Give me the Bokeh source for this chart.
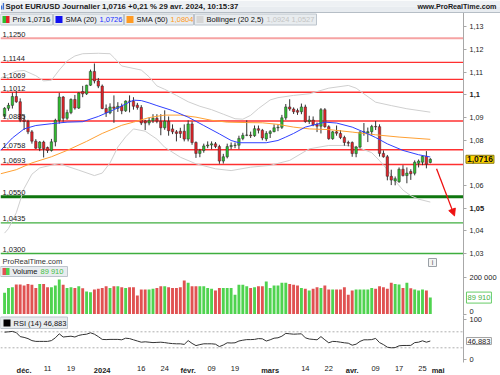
import numpy as np
from bokeh.plotting import figure
from bokeh.models import (Range1d, FixedTicker, Label, BoxAnnotation, Arrow, NormalHead,
                          CustomJSTickFormatter, ColumnDataSource, LinearAxis)
from bokeh.embed import file_html
from bokeh.resources import INLINE

# ---------------- data (daily EUR/USD, trading days from 2023-11-24) ----------------
FIRST_DAY = "2023-11-24"
HOLIDAYS = ["2023-12-25", "2024-01-01"]

open_ = [1.0906, 1.0941, 1.0954, 1.0993, 1.0970, 1.0890, 1.0883, 1.0837, 1.0796, 1.0765,
         1.0792, 1.0768, 1.0755, 1.0793, 1.0888, 1.0991, 1.0897, 1.0922, 1.0980, 1.0942,
         1.1015, 1.1005, 1.1043, 1.1104, 1.1062, 1.1039, 1.0940, 1.0921, 1.0947, 1.0941,
         1.0950, 1.0930, 1.0973, 1.0972, 1.0955, 1.0945, 1.0885, 1.0876, 1.0886, 1.0897,
         1.0884, 1.0855, 1.0884, 1.0850, 1.0837, 1.0840, 1.0840, 1.0805, 1.0872, 1.0790,
         1.0742, 1.0755, 1.0775, 1.0779, 1.0784, 1.0772, 1.0708, 1.0727, 1.0772, 1.0777,
         1.0778, 1.0808, 1.0822, 1.0823, 1.0820, 1.0851, 1.0844, 1.0806, 1.0830, 1.0838,
         1.0855, 1.0857, 1.0899, 1.0947, 1.0938, 1.0931, 1.0926, 1.0947, 1.0883, 1.0889,
         1.0870, 1.0862, 1.0935, 1.0860, 1.0807, 1.0837, 1.0830, 1.0812, 1.0790, 1.0790,
         1.0741, 1.0770, 1.0836, 1.0832, 1.0838, 1.0861, 1.0860, 1.0742, 1.0727, 1.0641,
         1.0620, 1.0617, 1.0672, 1.0644, 1.0662, 1.0654, 1.0698, 1.0703, 1.0729, 1.0702]
high = [1.0946, 1.0965, 1.1010, 1.1017, 1.0985, 1.0912, 1.0890, 1.0845, 1.0805, 1.0796,
        1.0798, 1.0772, 1.0806, 1.0895, 1.1009, 1.0995, 1.0935, 1.0985, 1.1000, 1.1012,
        1.1040, 1.1045, 1.1112, 1.1139, 1.1075, 1.1046, 1.0958, 1.0963, 1.0998, 1.0968,
        1.0962, 1.0976, 1.0998, 1.0990, 1.0965, 1.0955, 1.0890, 1.0900, 1.0915, 1.0915,
        1.0915, 1.0932, 1.0905, 1.0870, 1.0845, 1.0855, 1.0870, 1.0888, 1.0883, 1.0795,
        1.0762, 1.0785, 1.0795, 1.0795, 1.0792, 1.0780, 1.0740, 1.0785, 1.0790, 1.0790,
        1.0820, 1.0833, 1.0888, 1.0838, 1.0865, 1.0865, 1.0850, 1.0840, 1.0845, 1.0870,
        1.0870, 1.0912, 1.0960, 1.0981, 1.0945, 1.0940, 1.0962, 1.0957, 1.0908, 1.0905,
        1.0878, 1.0942, 1.0942, 1.0866, 1.0841, 1.0865, 1.0845, 1.0820, 1.0798, 1.0795,
        1.0775, 1.0840, 1.0876, 1.0856, 1.0868, 1.0885, 1.0870, 1.0755, 1.0735, 1.0670,
        1.0640, 1.0680, 1.0690, 1.0680, 1.0672, 1.0711, 1.0715, 1.0733, 1.0752, 1.0721]
low = [1.0900, 1.0930, 1.0940, 1.0965, 1.0880, 1.0845, 1.0827, 1.0785, 1.0762, 1.0752,
       1.0724, 1.0744, 1.0750, 1.0773, 1.0873, 1.0882, 1.0890, 1.0915, 1.0935, 1.0938,
       1.0990, 1.1000, 1.1040, 1.1051, 1.1030, 1.0937, 1.0903, 1.0915, 1.0877, 1.0925,
       1.0915, 1.0925, 1.0923, 1.0935, 1.0935, 1.0867, 1.0845, 1.0866, 1.0876, 1.0875,
       1.0822, 1.0846, 1.0820, 1.0827, 1.0795, 1.0810, 1.0795, 1.0795, 1.0780, 1.0722,
       1.0725, 1.0745, 1.0765, 1.0760, 1.0765, 1.0696, 1.0697, 1.0720, 1.0760, 1.0765,
       1.0761, 1.0800, 1.0818, 1.0810, 1.0815, 1.0830, 1.0800, 1.0796, 1.0810, 1.0835,
       1.0840, 1.0850, 1.0890, 1.0930, 1.0916, 1.0912, 1.0915, 1.0877, 1.0872, 1.0862,
       1.0836, 1.0830, 1.0855, 1.0802, 1.0802, 1.0820, 1.0805, 1.0776, 1.0773, 1.0727,
       1.0725, 1.0764, 1.0820, 1.0792, 1.0820, 1.0845, 1.0728, 1.0723, 1.0623, 1.0602,
       1.0601, 1.0612, 1.0640, 1.0610, 1.0625, 1.0645, 1.0680, 1.0690, 1.0676, 1.0698]
close = [1.0941, 1.0954, 1.0993, 1.0970, 1.0888, 1.0883, 1.0837, 1.0796, 1.0765, 1.0792,
         1.0762, 1.0755, 1.0793, 1.0888, 1.0991, 1.0897, 1.0922, 1.0980, 1.0942, 1.1009,
         1.1005, 1.1043, 1.1104, 1.1062, 1.1039, 1.0940, 1.0921, 1.0947, 1.0941, 1.0950,
         1.0930, 1.0973, 1.0972, 1.0950, 1.0945, 1.0876, 1.0876, 1.0886, 1.0897, 1.0884,
         1.0855, 1.0884, 1.0842, 1.0837, 1.0830, 1.0830, 1.0805, 1.0872, 1.0790, 1.0742,
         1.0755, 1.0775, 1.0779, 1.0784, 1.0772, 1.0708, 1.0727, 1.0772, 1.0777, 1.0778,
         1.0808, 1.0822, 1.0823, 1.0820, 1.0851, 1.0844, 1.0810, 1.0830, 1.0838, 1.0855,
         1.0857, 1.0899, 1.0947, 1.0938, 1.0926, 1.0924, 1.0947, 1.0883, 1.0889, 1.0868,
         1.0862, 1.0935, 1.0860, 1.0807, 1.0837, 1.0831, 1.0812, 1.0790, 1.0787, 1.0741,
         1.0770, 1.0836, 1.0837, 1.0838, 1.0861, 1.0859, 1.0742, 1.0727, 1.0641, 1.0624,
         1.0630, 1.0672, 1.0644, 1.0655, 1.0652, 1.0703, 1.0708, 1.0729, 1.0694, 1.0716]

volume_k = [116, 143, 147, 162, 162, 156, 165, 160, 143, 165,
            165, 147, 147, 156, 189, 160, 143, 147, 143, 152,
            141, 123, 119, 134, 138, 143, 152, 143, 152, 152,
            147, 143, 147, 147, 101, 134, 134, 134, 138, 143,
            152, 152, 147, 143, 143, 147, 184, 171, 152, 152,
            152, 152, 143, 138, 129, 143, 143, 143, 143, 105,
            160, 160, 152, 143, 147, 152, 152, 178, 143, 156,
            156, 171, 171, 165, 160, 156, 143, 138, 129, 138,
            147, 143, 156, 134, 134, 134, 134, 147, 105, 129,
            134, 134, 134, 134, 143, 138, 152, 147, 138, 171,
            165, 162, 143, 171, 141, 134, 129, 134, 129, 89.91]

rsi14 = [69, 70, 71, 68, 58, 56, 53, 48, 46, 46,
         46, 46, 48, 55, 65, 57, 58, 59, 57, 61,
         63, 64, 67.5, 64, 58, 51, 50.5, 51, 51, 51,
         50, 54, 53, 50, 47, 44, 45, 44, 43, 43.5,
         44, 43, 41.5, 40.5, 40, 40, 38.5, 48, 41, 35.5,
         38, 40, 40, 40, 39, 33, 37, 42.5, 42, 42.5,
         47, 49, 50.5, 50.5, 51, 53, 52.5, 47, 50, 54,
         55, 59, 66, 65, 64, 64.5, 65, 55, 52, 51,
         50, 58, 50, 42.5, 46, 45.5, 44, 42.5, 41.5, 36.5,
         39, 46, 50, 50, 50.5, 53.5, 43, 38, 31.5, 30,
         30.5, 35, 35.8, 35.8, 36, 43, 44, 47.5, 44, 46.883]

# indicator lines, read at trading-day numbers (0 = 2023-11-24)
sma20_day = [-1, 2, 5, 8, 12, 16, 20, 24, 28, 31, 33, 35, 37, 39, 43, 47, 51, 55, 58, 60,
             67, 70, 72, 74, 77, 82, 85, 89, 92, 95, 98, 102, 106, 109]
sma20_val = [1.0755, 1.0810, 1.0850, 1.0865, 1.0873, 1.0880, 1.0882, 1.0905, 1.0935, 1.0960,
             1.0977, 1.0975, 1.0965, 1.0953, 1.0931, 1.0902, 1.0865, 1.0828, 1.0799, 1.0789,
             1.0789, 1.0799, 1.0814, 1.0830, 1.0858, 1.0880, 1.0876, 1.0858, 1.0836, 1.0812,
             1.0784, 1.0755, 1.0736, 1.0726]
sma50_day = [-1, 3, 7, 12, 16, 21, 25, 30, 33, 37, 41, 45, 49, 53, 57, 62, 66, 70, 74, 78,
             83, 89, 95, 101, 109]
sma50_val = [1.0652, 1.0670, 1.0700, 1.0727, 1.0755, 1.0795, 1.0830, 1.0866, 1.0880, 1.0900,
             1.0911, 1.0911, 1.0902, 1.0888, 1.0880, 1.0878, 1.0877, 1.0870, 1.0858, 1.0850,
             1.0847, 1.0836, 1.0824, 1.0814, 1.0804]
bb_up_day = [-1, 1, 3, 5, 8, 10, 12, 14, 16, 18, 20, 24, 27, 28, 30, 35, 37, 39, 41, 44,
             47, 50, 53, 56, 59, 61, 63, 65, 68, 70, 74, 78, 83, 88, 90, 92, 95, 99, 103, 109]
bb_up_val = [1.1075, 1.1090, 1.1105, 1.1108, 1.1085, 1.1062, 1.1065, 1.1110, 1.1150, 1.1172,
             1.1182, 1.1184, 1.1182, 1.1165, 1.1128, 1.1110, 1.1080, 1.1040, 1.1025, 1.0998,
             1.0970, 1.0950, 1.0935, 1.0915, 1.0895, 1.0893, 1.0910, 1.0940, 1.0978, 1.0988,
             1.0998, 1.1005, 1.1030, 1.1042, 1.1030, 1.1005, 1.0968, 1.0953, 1.0939, 1.0924]
bb_lo_day = [0, 1, 3, 5, 7, 9, 12, 14, 16, 19, 23, 25, 27, 29, 31, 33, 36, 39, 41, 45,
             49, 54, 58, 63, 68, 73, 78, 83, 88, 91, 94, 96, 98, 100, 102, 104, 106, 109]
bb_lo_val = [1.0390, 1.0410, 1.0480, 1.0587, 1.0650, 1.0678, 1.0690, 1.0697, 1.0685, 1.0668,
             1.0644, 1.0655, 1.0700, 1.0770, 1.0815, 1.0850, 1.0840, 1.0805, 1.0769, 1.0725,
             1.0696, 1.0674, 1.0666, 1.0681, 1.0689, 1.0711, 1.0762, 1.0777, 1.0777, 1.0765,
             1.0745, 1.0710, 1.0670, 1.0620, 1.0580, 1.0555, 1.0540, 1.0527]

res_levels = [1.1250, 1.1144, 1.1069, 1.1012, 1.0885, 1.0758, 1.0693]
sup_levels = [1.0550, 1.0435, 1.0300]
arrow_from = (110.6, 1.0674)
arrow_to = (115.2, 1.0466)

price_ticks = [1.03, 1.04, 1.06, 1.08, 1.09, 1.11, 1.12, 1.13]
price_ticks_bold = [1.05, 1.10]
vol_ticks = [0, 200000]
rsi_ticks = [0, 100]
rsi_bands = [70, 30]
date_ticks = ["2023-12-01", "2023-12-11", "2023-12-19", "2024-01-02", "2024-01-16",
              "2024-01-24", "2024-02-01", "2024-02-09", "2024-02-19", "2024-03-01",
              "2024-03-14", "2024-03-22", "2024-04-01", "2024-04-09", "2024-04-17",
              "2024-04-25", "2024-05-01"]
date_labels = ["déc.", "11", "19", "2024", "16", "24", "févr.", "09", "19", "mars",
               "14", "22", "avr.", "09", "17", "25", "mai"]
date_bold = [True, False, False, True, False, False, True, False, False, True,
             False, False, True, False, False, False, True]

# ---------------- layout constants (one frame = whole page) ----------------
FONT = "Liberation Sans"
FS = "7.5px"
W, H = 500, 375
XR = (-1.042, 126.97)           # trading-day units across the page
X_AX = 117.49                   # where the right-hand axis line sits
PRICE_R = (0.97613, 1.14170)    # price scale over the whole page height
VOL_R = (-336986, 1717808)      # volume scale over the whole page height
RSI_R = (-39.25, 898.25)        # RSI scale over the whole page height
PRICE_B = (1.02867, 1.1364)     # visible extent of each panel (axis bounds)
VOL_B = (-8219, 315069)
RSI_B = (-6.75, 110.75)


def fr(v, nd=4):
    return f"{v:.{nd}f}".replace(".", ",")


day = np.arange(len(close))
o = np.array(open_)
c = np.array(close)
up = c >= o
src = ColumnDataSource(dict(
    x=day, h=high, l=low,
    top=np.maximum(o, c), bottom=np.minimum(o, c),
    color=np.where(up, "#2fbd2f", "#e32228"),
    vcolor=np.where(up, "#4fd34f", "#e05252"),
    vol=np.array(volume_k) * 1000, rsi=rsi14))
tick_pos = [int(np.busday_count(FIRST_DAY, d, holidays=HOLIDAYS)) for d in date_ticks]

p = figure(width=W, height=H, x_range=Range1d(*XR), y_range=Range1d(*PRICE_R),
           x_axis_location=None, y_axis_location=None,
           output_backend="svg", toolbar_location=None, min_border=0,
           background_fill_color="white", border_fill_color="white", outline_line_color=None)
p.grid.visible = False
p.extra_y_ranges = {"vol": Range1d(*VOL_R), "rsi": Range1d(*RSI_R)}


def txt(x, y, s, color="#111111", bold=False, size=FS, xu="screen", yu="screen",
        align="left", base="middle", **kw):
    p.add_layout(Label(x=x, y=y, x_units=xu, y_units=yu, text=s, text_color=color,
                       text_font=FONT, text_font_size=size,
                       text_font_style="bold" if bold else "normal",
                       text_align=align, text_baseline=base, **kw))


def box(l, r, b, t, fill, line=None):
    p.add_layout(BoxAnnotation(left=l, right=r, bottom=b, top=t,
                               left_units="screen", right_units="screen",
                               bottom_units="screen", top_units="screen",
                               fill_color=fill, fill_alpha=1,
                               line_color=line, line_alpha=1 if line else 0, line_width=1))


fmt = CustomJSTickFormatter(code='return String(Math.round(tick * 100) / 100).replace(".", ",");')


def right_axis(ticks, bounds, rname="default", bold=False, size="7.2px", overrides=None):
    ax = LinearAxis(fixed_location=X_AX, y_range_name=rname, bounds=bounds,
                    ticker=FixedTicker(ticks=ticks), formatter=fmt,
                    axis_line_color="#a8a8a8", major_tick_line_color="#a8a8a8",
                    major_tick_out=3, major_tick_in=0, minor_tick_line_color=None,
                    major_label_standoff=3, major_label_text_font=FONT,
                    major_label_text_font_size=size, major_label_text_color="#222222",
                    major_label_text_font_style="bold" if bold else "normal",
                    major_label_overrides=overrides or {})
    p.add_layout(ax, "right")
    return ax


def axis_text(y, s, rname, base="middle"):
    p.add_layout(Label(x=X_AX, y=y, x_offset=6, y_range_name=rname, text=s,
                       text_font=FONT, text_font_size=FS, text_baseline=base,
                       text_color="#222222"))


# ---------------- price panel ----------------
for lv in res_levels:
    first = lv == res_levels[0]
    p.segment(x0=XR[0], x1=X_AX, y0=lv, y1=lv,
              line_color="#f6a3a3" if first else "#ff3030", line_width=2 if first else 1.3)
for lv in sup_levels:
    main_sup = lv == sup_levels[0]
    p.segment(x0=XR[0], x1=X_AX, y0=lv, y1=lv,
              line_color="#0f760f" if main_sup else "#3fae3f", line_width=3 if main_sup else 1.3)
for lv in res_levels + sup_levels:
    txt(2, lv, fr(lv), yu="data", base="bottom", y_offset=1.5, color="#1a1a1a")

p.line(bb_up_day, bb_up_val, line_color="#cfcfcf", line_width=1)
p.line(bb_lo_day, bb_lo_val, line_color="#cfcfcf", line_width=1)
p.segment("x", "h", "x", "l", source=src, line_color="#333333", line_width=1)
p.vbar(x="x", width=0.62, top="top", bottom="bottom", fill_color="color",
       line_color="#2a2a2a", line_width=0.5, source=src)
p.line(sma50_day, sma50_val, line_color="#ffa033", line_width=1)
p.line(sma20_day, sma20_val, line_color="#3040ff", line_width=1)
p.add_layout(Arrow(end=NormalHead(size=7, fill_color="#ee1111", line_color="#ee1111"),
                   x_start=arrow_from[0], y_start=arrow_from[1],
                   x_end=arrow_to[0], y_end=arrow_to[1],
                   line_color="#ee1111", line_width=1.3))

right_axis(price_ticks, PRICE_B)
right_axis(price_ticks_bold, PRICE_B, bold=True, size="7.5px")
p.add_layout(Label(x=X_AX, y=close[-1], x_offset=2.5, text=fr(close[-1]),
                   text_font=FONT, text_font_size="8.5px", text_font_style="bold",
                   text_baseline="middle", text_color="#111111",
                   background_fill_color="#ffd400", border_line_color="#8a7a10", padding=1))

# ---------------- volume panel ----------------
p.vbar(x="x", width=0.74, top="vol", bottom=0, fill_color="vcolor", line_color=None,
       source=src, y_range_name="vol")
vol_ax = right_axis(vol_ticks, VOL_B, rname="vol", size="7.5px", overrides={0: ""})
vol_ax.formatter = CustomJSTickFormatter(
    code='return tick.toLocaleString("en-US").replace(/,/g, " ");')
axis_text(vol_ticks[0], "0", "vol", base="bottom")
vol_last = int(round(volume_k[-1] * 1000))
vol_txt = f"{vol_last:,}".replace(",", " ")
p.add_layout(Label(x=X_AX, y=vol_last, x_offset=3, y_range_name="vol", text=vol_txt,
                   text_font=FONT, text_font_size=FS, text_baseline="middle",
                   text_color="#44b044", background_fill_color="white",
                   border_line_color="#66cc66", padding=1))

# ---------------- RSI panel ----------------
for lv in rsi_bands:
    p.segment(x0=XR[0], x1=X_AX, y0=lv, y1=lv, y_range_name="rsi",
              line_color="#b0b0b0", line_width=1, line_dash="2 2")
p.line("x", "rsi", source=src, line_color="#333333", line_width=1, y_range_name="rsi")
right_axis(rsi_ticks, RSI_B, rname="rsi", size="7.5px", overrides={t: "" for t in rsi_ticks})
for t in rsi_ticks:
    axis_text(t, str(t), "rsi")
p.add_layout(Label(x=X_AX, y=rsi14[-1], x_offset=3, y_range_name="rsi", text=fr(rsi14[-1], 3),
                   text_font=FONT, text_font_size=FS, text_baseline="middle",
                   text_color="#222222", background_fill_color="white",
                   border_line_color="#a0a0a0", padding=1))

# ---------------- date axis (normal + bold month names) ----------------
for bold in (False, True):
    xa = LinearAxis(fixed_location=RSI_B[0], y_range_name="rsi",
                    ticker=FixedTicker(ticks=[t for t, b in zip(tick_pos, date_bold) if b == bold]),
                    major_label_overrides={t: s for t, s, b in zip(tick_pos, date_labels, date_bold)
                                           if b == bold},
                    axis_line_color=None, major_tick_line_color=None, minor_tick_line_color=None,
                    major_tick_out=0, major_tick_in=0, major_label_standoff=3,
                    major_label_text_font=FONT, major_label_text_font_size=FS,
                    major_label_text_color="#222222",
                    major_label_text_font_style="bold" if bold else "normal")
    p.add_layout(xa, "below")

# ---------------- title bar & legends (screen pixels, origin bottom-left) ----------------
box(0, W, H - 12, H - 6, "#e8ecf0")
box(0, W, H - 6, H, "#eef1f4")
box(0, W, H - 12.5, H - 11.5, "#b6bec6")
box(0.5, 1.8, H - 9, H - 5, "#3d6fd0")
box(2.3, 3.6, H - 9, H - 2.5, "#3d6fd0")
chg = (close[-1] / close[-2] - 1) * 100
txt(5, H - 6, f"Spot EUR/USD Journalier {fr(close[-1])} +{fr(chg, 2)} % 29 avr. 2024, 10:15:37",
    bold=True, size="7.8px", color="#1a1a1a")
txt(W - 4, H - 6, "www.ProRealTime.com", bold=True, size="7.2px", align="right",
    color="#1a1a1a")

LB, LT = H - 24.5, H - 13.5
LM = H - 19
box(0, 52, LB, LT, "#e8ecef", "#bcc4cc")
box(2, 5.5, LB + 2, LT - 2, "#2fbd2f")
box(5.5, 9, LB + 2, LT - 2, "#e32228")
txt(12, LM, f"Prix {fr(close[-1])}")
box(53, 123, LB, LT, "#e8ecef", "#bcc4cc")
box(55, 62, LB + 2, LT - 2, "#1010f0")
txt(65, LM, "SMA (20)")
txt(99, LM, fr(sma20_val[-1]), color="#2030ff")
box(124, 193, LB, LT, "#e8ecef", "#bcc4cc")
box(126, 133, LB + 2, LT - 2, "#ff9a22")
txt(136, LM, "SMA (50)")
txt(170, LM, fr(sma50_val[-1]), color="#ff9a22")
box(194, 316, LB, LT, "#e8ecef", "#bcc4cc")
box(196, 203, LB + 2, LT - 2, "#d6d6d6")
txt(206, LM, "Bollinger (20 2,5)")
txt(266, LM, f"{fr(bb_up_val[-1])}  {fr(bb_lo_val[-1])}", color="#c4c4c4")

# volume panel header
txt(2, H - 261, "ProRealTime.com", color="#333333")
box(428, 436, H - 266, H - 258, "#f4f4f4", "#9aa0a6")
txt(432, H - 262, "i", color="#555555", size="7px", align="center")
box(0, 67, H - 276, H - 266, "#e8ecef", "#bcc4cc")
box(2, 5.5, H - 274.5, H - 267.5, "#e05252")
box(5.5, 9, H - 274.5, H - 267.5, "#4fd34f")
txt(12, H - 271, "Volume")
txt(40, H - 271, vol_txt, color="#44c044")

# RSI panel header
box(0, 67, H - 328, H - 316.5, "#e8ecef", "#bcc4cc")
box(3, 10, H - 326, H - 319, "#000000")
txt(13, H - 322.5, f"RSI (14) {fr(rsi14[-1], 3)}")

open("out.html", "w").write(file_html(p, INLINE))
